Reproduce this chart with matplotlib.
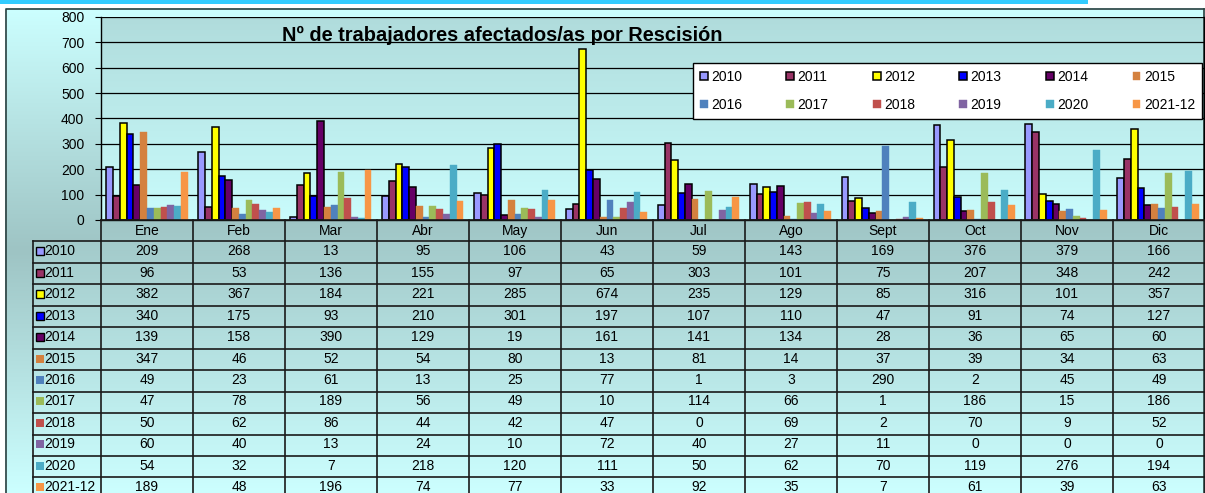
import numpy as np
import matplotlib
matplotlib.use('Agg')
import matplotlib.pyplot as plt
from matplotlib.colors import LinearSegmentedColormap
from matplotlib.patches import Rectangle

months = ['Ene', 'Feb', 'Mar', 'Abr', 'May', 'Jun', 'Jul', 'Ago', 'Sept', 'Oct', 'Nov', 'Dic']
years = ['2010', '2011', '2012', '2013', '2014', '2015',
         '2016', '2017', '2018', '2019', '2020', '2021-12']

v2010 = [209, 268, 13, 95, 106, 43, 59, 143, 169, 376, 379, 166]
v2011 = [96, 53, 136, 155, 97, 65, 303, 101, 75, 207, 348, 242]
v2012 = [382, 367, 184, 221, 285, 674, 235, 129, 85, 316, 101, 357]
v2013 = [340, 175, 93, 210, 301, 197, 107, 110, 47, 91, 74, 127]
v2014 = [139, 158, 390, 129, 19, 161, 141, 134, 28, 36, 65, 60]
v2015 = [347, 46, 52, 54, 80, 13, 81, 14, 37, 39, 34, 63]
v2016 = [49, 23, 61, 13, 25, 77, 1, 3, 290, 2, 45, 49]
v2017 = [47, 78, 189, 56, 49, 10, 114, 66, 1, 186, 15, 186]
v2018 = [50, 62, 86, 44, 42, 47, 0, 69, 2, 70, 9, 52]
v2019 = [60, 40, 13, 24, 10, 72, 40, 27, 11, 0, 0, 0]
v2020 = [54, 32, 7, 218, 120, 111, 50, 62, 70, 119, 276, 194]
v2021 = [189, 48, 196, 74, 77, 33, 92, 35, 7, 61, 39, 63]

series = [v2010, v2011, v2012, v2013, v2014, v2015,
          v2016, v2017, v2018, v2019, v2020, v2021]
colors = ['#9999ff', '#993366', '#ffff00', '#0000ff', '#660066', '#d4813f',
          '#4f81bd', '#9bbb59', '#c0504d', '#8064a2', '#4bacc6', '#f79646']
n_edged = 5  # 2010-2014 llevan borde negro

W, H = 1205, 493
plt.rcParams['font.family'] = ['Liberation Sans', 'DejaVu Sans']

fig = plt.figure(figsize=(W / 100, H / 100), dpi=100, facecolor='white')


def px_axes(x0, y0, x1, y1):
    return fig.add_axes([x0 / W, 1 - y1 / H, (x1 - x0) / W, (y1 - y0) / H])


def gradient(ax, x0, x1, y0, y1, cols):
    cmap = LinearSegmentedColormap.from_list('g', cols)
    ax.imshow(np.linspace(0, 1, 256).reshape(-1, 1), cmap=cmap,
              extent=(x0, x1, y1, y0), aspect='auto', interpolation='bilinear')


# fondo del grafico
bg = px_axes(0, 0, W, H)
bg.set_zorder(-10)
gradient(bg, 5, W, 8, H, ['#ccffff', '#9ec4c4', '#ccffff'])
gradient(bg, 101, W, 17, 220, ['#b0dcdc', '#c9fcfc'])
gradient(bg, 101, W, 220, 241, ['#9fc5c5', '#a3caca'])
gradient(bg, 33, W, 241, H, ['#a3caca', '#ccffff'])
bg.add_patch(Rectangle((0, 0), 1088, 3.5, color='#33ccff', lw=0))
bg.plot([5.5, 5.5, 1203.5], [H, 8.5, 8.5], color='#2b3f3f', lw=1.2)
bg.plot([1203.5, 1203.5], [8.5, H], color='#2b3f3f', lw=1.2)
bg.set_xlim(0, W)
bg.set_ylim(H, 0)
bg.axis('off')

# barras
ax = px_axes(101, 17, 1204, 220)
ax.patch.set_visible(False)
w = 0.0737
x = np.arange(len(months)) + 0.5
handles = []
for j, vals in enumerate(series):
    edged = j < n_edged
    b = ax.bar(x + (j - 5.5) * w, vals, width=w, color=colors[j],
               edgecolor='black' if edged else colors[j],
               linewidth=1.1 if edged else 0.3, zorder=3)
    handles.append(b)
ax.set_xlim(0, 12)
ax.set_ylim(0, 800)
ax.set_yticks(range(0, 801, 100))
ax.set_xticks([])
ax.grid(axis='y', color='black', lw=0.9)
ax.set_axisbelow(True)
ax.spines['top'].set_visible(False)
for s in ['left', 'bottom', 'right']:
    ax.spines[s].set_color('black')
    ax.spines[s].set_linewidth(1.0)
ax.tick_params(axis='y', direction='out', length=4, pad=8, labelsize=10, colors='black')

fig.text(502 / W, 1 - 35 / H, 'Nº de trabajadores afectados/as por Rescisión',
         ha='center', va='center', fontsize=14.4, fontweight='bold')

# leyenda en orden por filas
order = [0, 6, 1, 7, 2, 8, 3, 9, 4, 10, 5, 11]
leg = fig.legend([handles[i] for i in order], [years[i] for i in order], ncol=6,
                 loc='upper left', mode='expand', borderaxespad=0,
                 bbox_to_anchor=(693 / W, 1 - 63 / H, (1202 - 693) / W, 0),
                 fontsize=10, handlelength=0.55, handleheight=0.55, handletextpad=0.25,
                 labelspacing=1.0, borderpad=0.5, columnspacing=1.0,
                 fancybox=False, framealpha=1, edgecolor='black')
leg.get_frame().set_linewidth(1.0)

# tabla de datos
rh = 21.45
tb = px_axes(33, 220, W, H)
tb.patch.set_visible(False)
x_left = -(101 - 33) / 92
tb.set_xlim(x_left, 12)
tb.set_ylim((H - 220) / rh, 0)
tb.axis('off')
line_kw = dict(color='#1a1a1a', lw=1.2, clip_on=False)
for r in range(1, 14):
    tb.plot([x_left, 12], [r, r], **line_kw)
tb.plot([0, 12], [0, 0], **line_kw)
for c in range(0, 13):
    tb.plot([c, c], [0, 14], **line_kw)
tb.plot([x_left, x_left], [1, 14], **line_kw)

for i, m in enumerate(months):
    tb.text(i + 0.5, 0.5, m, ha='center', va='center', fontsize=10)
for k, vals in enumerate(series):
    yk = k + 1.46
    tb.plot(x_left + 7 / 92, yk, marker='s', ms=5.5, color=colors[k],
            mec='black' if k < n_edged else colors[k], mew=1.0 if k < n_edged else 0)
    tb.text(x_left + 11 / 92, yk, years[k], ha='left', va='center', fontsize=10)
    for i, v in enumerate(vals):
        tb.text(i + 0.5, yk, str(v), ha='center', va='center', fontsize=10)

fig.savefig('out.png', dpi=100, facecolor='white')
